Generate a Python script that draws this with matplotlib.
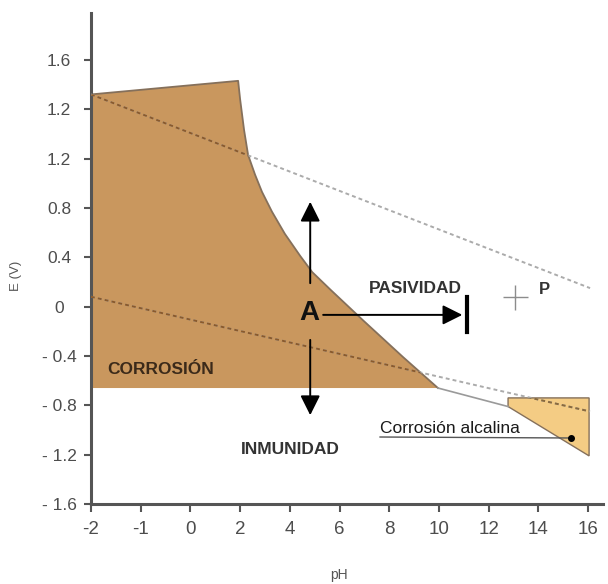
import matplotlib
matplotlib.use('Agg')
import matplotlib.pyplot as plt
from matplotlib.patches import Polygon

plt.rcParams['font.family'] = ['Liberation Sans', 'DejaVu Sans']

# ticks are evenly spaced, labels kept as printed in the original figure
x_ticks = [0, 1, 2, 3, 4, 5, 6, 7, 8, 9, 10]
x_labels = ['-2', '-1', '0', '2', '4', '6', '8', '10', '12', '14', '16']
y_ticks = [-1.6, -1.2, -0.8, -0.4, 0.0, 0.4, 0.8, 1.2, 1.6, 2.0]
y_labels = ['- 1.6', '- 1.2', '- 0.8', '- 0.4', '0', '0.4', '0.8', '1.2', '1.2', '1.6']

# corrosion region (top edge, curved right edge, flat bottom)
corr_x = [0, 2.96, 3.00, 3.08, 3.16, 3.30, 3.44, 3.64, 3.90, 4.21, 4.45,
          4.81, 5.47, 6.28, 6.98, 0]
corr_y = [1.72, 1.83, 1.68, 1.43, 1.23, 1.07, 0.93, 0.77, 0.59, 0.41, 0.28,
          0.14, -0.11, -0.41, -0.66, -0.66]

# alkaline corrosion region
alk_x = [8.39, 10.02, 10.02, 8.39]
alk_y = [-0.74, -0.74, -1.21, -0.81]

# passivity / immunity boundary between both regions
link_x = [6.98, 8.39]
link_y = [-0.66, -0.81]

# water stability lines (dashed)
upper_x = [0, 10.04]
upper_y = [1.72, 0.15]
lower_x = [0, 10.04]
lower_y = [0.08, -0.85]

# point A and its arrows
point_a = (4.39, -0.05)
arrow_up = [(4.41, 0.19), (4.41, 0.85)]
arrow_down = [(4.41, -0.27), (4.41, -0.88)]
arrow_right = [(4.67, -0.067), (7.47, -0.067)]
stop_bar_x = 7.57
stop_bar_y = [0.08, -0.205]
point_p = (8.53, 0.08)

brown = '#c9975e'
yellow = '#f4cc84'
edge = '#85705b'

fig = plt.figure(figsize=(6.08, 5.84), dpi=100)
ax = fig.add_axes([91 / 608, 1 - 504 / 584, 512 / 608, 491 / 584])
ax.set_xlim(0, 10.3)
ax.set_ylim(-1.6, 2.38)

# regions
corr_patch = Polygon(list(zip(corr_x, corr_y)), closed=True, facecolor=brown,
                     edgecolor='none', zorder=1)
ax.add_patch(corr_patch)
ax.plot(corr_x[:-1], corr_y[:-1], color=edge, lw=1.3, zorder=2)

alk_patch = Polygon(list(zip(alk_x, alk_y)), closed=True, facecolor=yellow,
                    edgecolor=edge, lw=1.0, zorder=1)
ax.add_patch(alk_patch)
ax.plot(link_x, link_y, color='#9a9a9a', lw=1.2, zorder=2)

# dashed lines, light outside the regions and darker inside them
dash = (0, (2, 1.6))
ax.plot(upper_x, upper_y, ls=dash, color='#ababab', lw=1.4, zorder=3)
ax.plot(lower_x, lower_y, ls=dash, color='#ababab', lw=1.4, zorder=3)
for xs, ys in [(upper_x, upper_y), (lower_x, lower_y)]:
    ln = ax.plot(xs, ys, ls=dash, color='#8b5a2b', lw=1.4, zorder=4)[0]
    ln.set_clip_path(corr_patch)
ln = ax.plot(lower_x, lower_y, ls=dash, color='#8b6a3b', lw=1.4, zorder=4)[0]
ln.set_clip_path(alk_patch)

# arrows from A
head = '-|>,head_length=0.6,head_width=0.3'
for start, tip in [arrow_up, arrow_down, arrow_right]:
    ax.annotate('', xy=tip, xytext=start,
                arrowprops=dict(arrowstyle=head, mutation_scale=20, lw=1.4,
                                color='black', shrinkA=0, shrinkB=0), zorder=5)
ax.plot([stop_bar_x, stop_bar_x], stop_bar_y, color='black', lw=3, zorder=5)

ax.text(point_a[0], point_a[1], 'A', fontsize=20, fontweight='bold',
        ha='center', va='center', color='#111111', zorder=6)
ax.plot(point_p[0], point_p[1], marker='+', ms=18, mew=1.0, color='#8c8c8c')
ax.text(9.12, 0.136, 'P', fontsize=12, fontweight='bold', ha='center',
        va='center', color='#333333')

# region labels
ax.text(1.41, -0.51, 'CORROSIÓN', fontsize=12.5, fontweight='bold',
        ha='center', va='center', color='#3b2a1a')
ax.text(6.52, 0.15, 'PASIVIDAD', fontsize=12.5, fontweight='bold',
        ha='center', va='center', color='#333333')
ax.text(4.00, -1.16, 'INMUNIDAD', fontsize=12.5, fontweight='bold',
        ha='center', va='center', color='#333333')
ax.text(5.815, -0.985, 'Corrosión alcalina', fontsize=12.5, ha='left',
        va='center', color='#1a1a1a')
ax.plot([5.815, 9.66], [-1.057, -1.065], color='#555555', lw=1.0)
ax.plot(9.66, -1.065, 'o', ms=4, color='black')

# axes styling
for side in ['top', 'right']:
    ax.spines[side].set_visible(False)
for side in ['left', 'bottom']:
    ax.spines[side].set_color('#555555')
    ax.spines[side].set_linewidth(2.2)

ax.set_xticks(x_ticks)
ax.set_xticklabels(x_labels)
ax.set_yticks(y_ticks)
ax.set_yticklabels(y_labels)
ax.tick_params(axis='x', direction='out', length=6, width=1.5, color='#555555',
               pad=6, labelsize=13.5, labelcolor='#4d4d4d')
ax.tick_params(axis='y', direction='out', length=5, width=1.5, color='#555555',
               pad=18, labelsize=12.5, labelcolor='#4d4d4d')
for lbl in ax.get_yticklabels():
    lbl.set_ha('center')

ax.set_ylabel('E (V)', fontsize=9.5, color='#555555')
ax.yaxis.set_label_coords(-0.135, 0.465)
ax.set_xlabel('pH', fontsize=10, color='#555555')
ax.xaxis.set_label_coords(0.485, -0.13)

fig.savefig('out.png', dpi=100)
